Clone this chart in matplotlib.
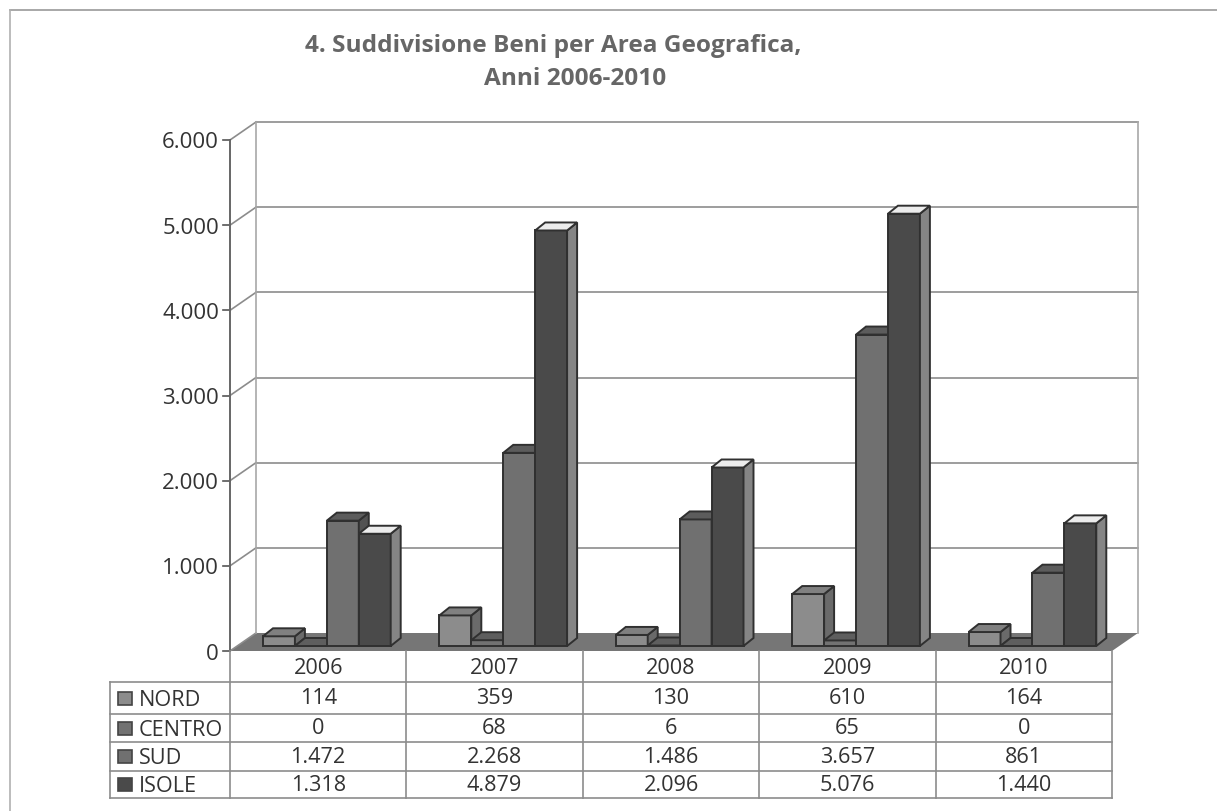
import matplotlib
matplotlib.use("Agg")
import matplotlib.pyplot as plt
from matplotlib.transforms import Affine2D

""" ---------- Data ---------- """

years = ['2006', '2007', '2008', '2009', '2010']
y_ticks = [0, 1000, 2000, 3000, 4000, 5000, 6000]
y_labels = ['0', '1.000', '2.000', '3.000', '4.000', '5.000', '6.000']

series_names = ['NORD', 'CENTRO', 'SUD', 'ISOLE']
nord = [114, 359, 130, 610, 164]
centro = [0, 68, 6, 65, 0]
sud = [1472, 2268, 1486, 3657, 861]
isole = [1318, 4879, 2096, 5076, 1440]
series_values = [nord, centro, sud, isole]

nord_text = ['114', '359', '130', '610', '164']
centro_text = ['0', '68', '6', '65', '0']
sud_text = ['1.472', '2.268', '1.486', '3.657', '861']
isole_text = ['1.318', '4.879', '2.096', '5.076', '1.440']
table_text = [nord_text, centro_text, sud_text, isole_text]

front_colors = ['#8c8c8c', '#727272', '#707070', '#4a4a4a']
top_colors = ['#808080', '#5e5e5e', '#5c5c5c', '#ececec']
side_colors = ['#6a6a6a', '#585858', '#525252', '#858585']

""" ---------- Layout (pixels) ---------- """

W, H = 1217, 811
FONT = 'Open Sans'
EDGE = '#303030'
LINE = '#8c8c8c'
TEXT = '#333333'

# front plane of the plot
PX_LEFT, PX_RIGHT, PX_ZERO, PX_TOP = 230, 1112, 651, 140
WALL_DX, WALL_DY = 26, 18   # depth of the back wall
BAR_DX, BAR_DY = 10, 8      # depth of a bar
BAR_LIFT = 5                # bars stand a bit behind the front edge
BAR_START = 0.187           # in category units
BAR_WIDTH = 0.181
ROW_EDGES = [651, 682, 714, 742, 771, 798]
TABLE_LEFT = 110


def main() -> None:
    fig = plt.figure(figsize=(W / 100, H / 100), dpi=100, facecolor='white')
    ax = fig.add_axes([PX_LEFT / W, 1 - PX_ZERO / H, (PX_RIGHT - PX_LEFT) / W, (PX_ZERO - PX_TOP) / H])
    ax.set_xlim(0, len(years))
    ax.set_ylim(0, 6000)
    ax.axis('off')

    # px to data units
    ux = len(years) / (PX_RIGHT - PX_LEFT)
    uy = 6000 / (PX_ZERO - PX_TOP)
    wall_x, wall_y = WALL_DX * ux, WALL_DY * uy
    n = len(years)

    # back wall and grid
    for tick, label in zip(y_ticks, y_labels):
        ax.plot([0, wall_x], [tick, tick + wall_y], color=LINE, lw=1.2, clip_on=False)
        if tick > 0:
            ax.plot([wall_x, n + wall_x], [tick + wall_y, tick + wall_y], color=LINE, lw=1.2, clip_on=False)
        ax.plot([-7 * ux, 0], [tick, tick], color='#555555', lw=1.2, clip_on=False)
        ax.text(-11 * ux, tick - 3 * uy, label, ha='right', va='center', fontsize=16,
                family=FONT, color=TEXT, clip_on=False)
    ax.plot([0, 0], [0, 6000], color='#666666', lw=1.4, clip_on=False)
    ax.plot([wall_x, wall_x], [wall_y, 6000 + wall_y], color='#a8a8a8', lw=1.2, clip_on=False)
    ax.plot([n + wall_x, n + wall_x], [wall_y, 6000 + wall_y], color='#a8a8a8', lw=1.2, clip_on=False)

    # floor
    ax.fill([0, n, n + wall_x, wall_x], [0, 0, wall_y, wall_y], color='#767676', lw=0, clip_on=False)

    # bars, left to right so the next bar covers the side of the previous one
    lift = BAR_LIFT * uy
    dx, dy = BAR_DX * ux, BAR_DY * uy
    for i in range(n):
        for s, values in enumerate(series_values):
            x0 = i + BAR_START + s * BAR_WIDTH
            x1 = x0 + BAR_WIDTH
            top = values[i] + lift
            z = 3 + i + s * 0.1
            ax.bar(x0, values[i], BAR_WIDTH, bottom=lift, align='edge', color=front_colors[s],
                   edgecolor=EDGE, linewidth=1.4, clip_on=False, zorder=z)
            ax.fill([x1, x1 + dx, x1 + dx, x1], [lift, lift + dy, top + dy, top], facecolor=side_colors[s],
                    edgecolor=EDGE, linewidth=1.4, clip_on=False, zorder=z)
            ax.fill([x0, x1, x1 + dx, x0 + dx], [top, top, top + dy, top + dy], facecolor=top_colors[s],
                    edgecolor=EDGE, linewidth=1.4, clip_on=False, zorder=z)

    # data table, drawn in pixels from the top of the figure
    pixel = Affine2D().scale(1, -1).translate(0, H)
    col_w = (PX_RIGHT - PX_LEFT) / n

    def hline(x0, x1, y, color=LINE):
        fig.add_artist(plt.Line2D([x0, x1], [y, y], transform=pixel, color=color, lw=1.2))

    def vline(x, y0, y1, color=LINE):
        fig.add_artist(plt.Line2D([x, x], [y0, y1], transform=pixel, color=color, lw=1.2))

    for y in ROW_EDGES[1:]:
        hline(TABLE_LEFT, PX_RIGHT, y)
    vline(TABLE_LEFT, ROW_EDGES[1], ROW_EDGES[-1])
    for c in range(n + 1):
        vline(PX_LEFT + c * col_w, ROW_EDGES[0], ROW_EDGES[-1])

    for c, label in enumerate(years):
        fig.text((PX_LEFT + (c + 0.5) * col_w) / W, 1 - ((ROW_EDGES[0] + ROW_EDGES[1]) / 2 + 2) / H, label,
                 ha='center', va='center', fontsize=15.6, family=FONT, color=TEXT)
    for r, name in enumerate(series_names):
        yc = (ROW_EDGES[r + 1] + ROW_EDGES[r + 2]) / 2
        fig.add_artist(plt.Rectangle((118, yc - 6.5), 14, 13, transform=pixel, facecolor=front_colors[r],
                                     edgecolor='#444444', linewidth=1.2))
        fig.text(139 / W, 1 - (yc + 2) / H, name, ha='left', va='center', fontsize=15.6, family=FONT, color=TEXT)
        for c, cell in enumerate(table_text[r]):
            fig.text((PX_LEFT + (c + 0.5) * col_w) / W, 1 - (yc + 1) / H, cell, ha='center', va='center',
                     fontsize=15.6, family=FONT, color=TEXT)

    # title
    fig.text(553 / W, 1 - 46 / H, '4. Suddivisione Beni per Area Geografica,', ha='center', va='center',
             fontsize=17.6, fontweight='bold', family=FONT, color='#666666')
    fig.text(575 / W, 1 - 79 / H, 'Anni 2006-2010', ha='center', va='center', fontsize=17.6, fontweight='bold',
             family=FONT, color='#666666')

    # frame of the scanned page
    hline(10, W, 10, '#9a9a9a')
    vline(10, 10, H, '#b0b0b0')

    plt.savefig('out.png', dpi=100)


if __name__ == "__main__":
    main()
